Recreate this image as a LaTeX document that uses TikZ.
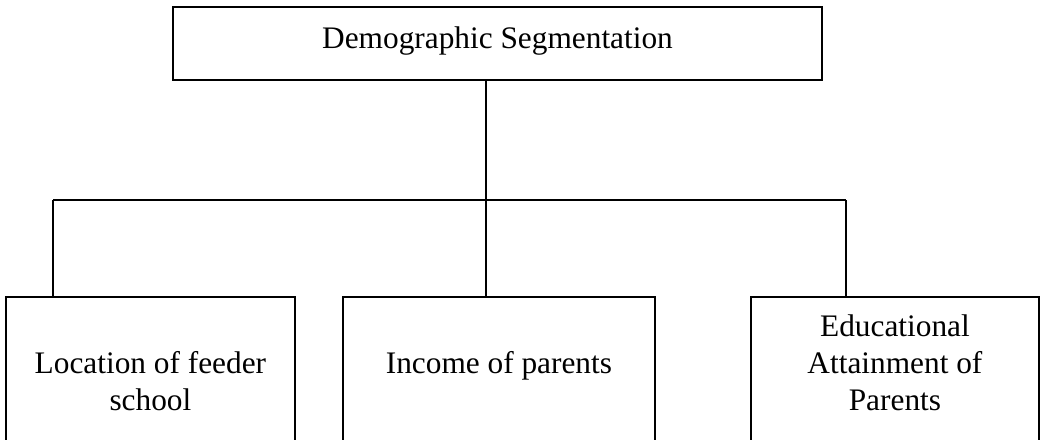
\documentclass[tikz,border=0pt]{standalone}
\usepackage{fontspec}
\setmainfont{Liberation Serif}
\usepackage{tikz}
\usetikzlibrary{positioning}
\tikzset{
    %Define style for boxes
    topbox/.style={
           rectangle,
           draw=black, line width=1.4pt,
           minimum width=486.75pt,
           minimum height=54.75pt,
           inner sep=0pt,
           text height=15pt,
           text depth=8.25pt,
           font=\fontsize{23.5pt}{27.4pt}\selectfont,
           text centered},
    leaf/.style={
           rectangle,
           draw=black, line width=1.4pt,
           minimum height=130.5pt,
           anchor=north west,
           inner sep=0pt},
    leaftext/.style={
           align=center,
           anchor=base,
           inner sep=0pt,
           font=\fontsize{23.5pt}{27.4pt}\selectfont},
    % Define line style
    link/.style={
           line width=1.4pt}
}
\begin{document}
\begin{tikzpicture}[x=0.75pt,y=-0.75pt]
 \path[use as bounding box, clip] (0,0) rectangle (1042,439);

 %nodes
\node[topbox](demo) at (497.5,43.5){Demographic Segmentation};
\node[leaf, minimum width=216.75pt](loc) at (5,296){};
\node[leaf, minimum width=234pt](inc) at (342,296){};
\node[leaf, minimum width=216pt](edu) at (750,296){};
\node[leaftext](loctxt) at (loc.north |- 0,410){Location of feeder\\school};
\node[leaftext](inctxt) at (inc.north |- 0,373){Income of parents};
\node[leaftext](edutxt) at (edu.north |- 0,410){Educational\\Attainment of\\Parents};

 %connectors
\coordinate (hub) at (486,200);
\coordinate (jl) at (53,200);
\coordinate (jr) at (846,200);
 \draw[link] (demo.south -| hub) -- (hub);
 \draw[link] (jl) -- (jr);
 \draw[link] (jl) -- (jl |- loc.north);
 \draw[link] (hub) -- (hub |- inc.north);
 \draw[link] (jr) -- (jr |- edu.north);

\end{tikzpicture}
\end{document}
